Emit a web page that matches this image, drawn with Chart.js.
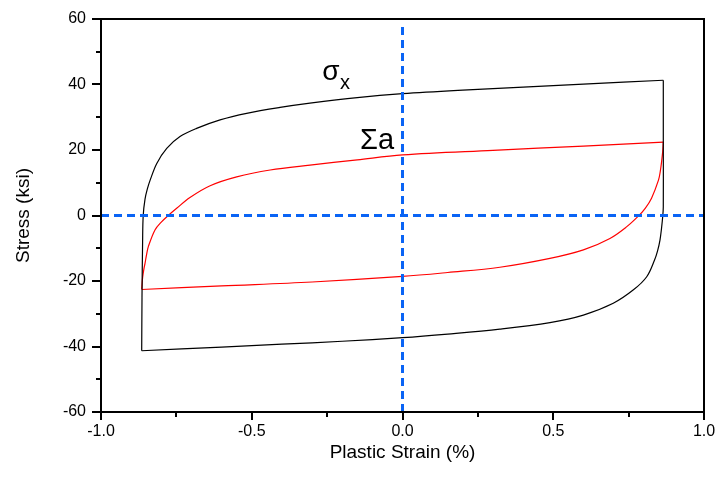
<!DOCTYPE html>
<html>
<head>
<meta charset="utf-8">
<script src="https://cdn.jsdelivr.net/npm/chart.js@4/dist/chart.umd.min.js"></script>
<style>
    html, body { margin: 0; padding: 0; background: #fff; }
    #wrap { width: 718px; height: 477px; }
</style>
</head>
<body>
<div id="wrap"><canvas id="loopChart"></canvas></div>
<script>
// values (strain %, stress ksi)
const sigmaUpX = [-0.865, -0.864, -0.862, -0.860, -0.854, -0.846, -0.837, -0.815, -0.782, -0.738, -0.683, -0.605, -0.517, -0.406, -0.307, -0.15, 0, 0.2, 0.4, 0.6, 0.865];
const sigmaUpY = [-41.3, -25, -8, 0, 5, 8.2, 10.8, 15.9, 20.5, 24.1, 26.6, 29.2, 31.2, 33.0, 34.3, 36.0, 37.2, 38.3, 39.2, 40.1, 41.3];
const sigmaDownX = [0.865, 0.865, 0.865, 0.863, 0.859, 0.854, 0.846, 0.836, 0.810, 0.766, 0.699, 0.600, 0.489, 0.323, 0.15, 0, -0.2, -0.4, -0.6, -0.865];
const sigmaDownY = [41.3, 20, 2.7, -0.4, -4, -7.5, -10.8, -13.6, -18.7, -22.7, -26.8, -30.4, -32.7, -34.7, -36.2, -37.3, -38.4, -39.3, -40.2, -41.3];

const alphaUpX = [-0.865, -0.862, -0.858, -0.854, -0.849, -0.843, -0.821, -0.800, -0.777, -0.749, -0.705, -0.638, -0.550, -0.439, -0.307, -0.15, 0, 0.3, 0.6, 0.865];
const alphaUpY = [-22.5, -19, -16.5, -14.6, -12, -9.5, -4.4, -2.0, 0, 2.2, 5.5, 9.1, 11.8, 13.9, 15.4, 17.0, 18.5, 19.9, 21.2, 22.4];
const alphaDownX = [0.865, 0.863, 0.860, 0.855, 0.849, 0.826, 0.805, 0.782, 0.744, 0.688, 0.600, 0.489, 0.323, 0.15, 0, -0.3, -0.6, -0.865];
const alphaDownY = [22.4, 19.5, 16.9, 13.5, 10.8, 5.3, 2.2, -0.2, -3.4, -7.0, -10.5, -13.1, -15.8, -17.4, -18.6, -20.3, -21.5, -22.6];

const zeroLineX = [-1, 1];
const zeroLineY = [0, 0];
const midLineX = [0, 0];
const midLineY = [-60, 57.8];

const xTicks = [-1.0, -0.5, 0.0, 0.5, 1.0];
const yTicks = [-60, -40, -20, 0, 20, 40, 60];

const noteText = ['\u03C3', 'x', '\u03A3a'];
const noteX = [-0.266, -0.207, -0.141];
const noteY = [41.4, 38.6, 20.3];

function toPoints(xs, ys) {
    let pts = [];
    for (let i = 0; i < xs.length; i++) {
        pts.push({ x: xs[i], y: ys[i] });
    }
    return pts;
}

// frame, outward ticks and the text notes
const framePlugin = {
    id: 'frame',
    afterDraw(chart) {
        const ctx = chart.ctx;
        const a = chart.chartArea;
        const xs = chart.scales.x;
        const ys = chart.scales.y;
        ctx.save();
        ctx.strokeStyle = '#000';
        ctx.lineWidth = 2;
        ctx.strokeRect(a.left, a.top, a.right - a.left, a.bottom - a.top);

        ctx.beginPath();
        for (let v = -1; v <= 1.0001; v += 0.25) {
            let px = Math.round(xs.getPixelForValue(v));
            let major = Math.abs(v * 2 - Math.round(v * 2)) < 1e-6;
            ctx.moveTo(px, a.bottom);
            ctx.lineTo(px, a.bottom + (major ? 8 : 5));
        }
        for (let v = -60; v <= 60; v += 10) {
            let py = Math.round(ys.getPixelForValue(v));
            let major = v % 20 === 0;
            ctx.moveTo(a.left, py);
            ctx.lineTo(a.left - (major ? 9 : 5), py);
        }
        ctx.stroke();

        ctx.fillStyle = '#000';
        ctx.textBaseline = 'alphabetic';
        ctx.textAlign = 'left';
        const fonts = ['28px "Liberation Sans", Arial', '20px "Liberation Sans", Arial', '29px "Liberation Sans", Arial'];
        for (let i = 0; i < noteText.length; i++) {
            ctx.font = fonts[i];
            ctx.fillText(noteText[i], xs.getPixelForValue(noteX[i]), ys.getPixelForValue(noteY[i]));
        }
        ctx.restore();
    }
};

function createChart(ctx) {
    return new Chart(ctx, {
        type: 'scatter',
        data: {
            datasets: [{
                data: toPoints(zeroLineX, zeroLineY),
                borderColor: 'rgb(10, 100, 245)',
                borderWidth: 3,
                borderDash: [8, 5]
            }, {
                data: toPoints(midLineX, midLineY),
                borderColor: 'rgb(10, 100, 245)',
                borderWidth: 3,
                borderDash: [8, 5]
            }, {
                data: toPoints(sigmaUpX, sigmaUpY),
                borderColor: '#000',
                borderWidth: 1.2,
                tension: 0.35
            }, {
                data: toPoints(sigmaDownX, sigmaDownY),
                borderColor: '#000',
                borderWidth: 1.2,
                tension: 0.35
            }, {
                data: toPoints(alphaUpX, alphaUpY),
                borderColor: '#ff0000',
                borderWidth: 1.2,
                tension: 0.35
            }, {
                data: toPoints(alphaDownX, alphaDownY),
                borderColor: '#ff0000',
                borderWidth: 1.2,
                tension: 0.35
            }].map(d => Object.assign(d, { showLine: true, pointRadius: 0, pointHoverRadius: 0, fill: false }))
        },
        options: {
            responsive: true,
            maintainAspectRatio: false,
            animation: false,
            layout: {
                padding: { top: 19, right: 14, left: 0, bottom: 0 }
            },
            plugins: {
                legend: { display: false },
                tooltip: { enabled: false }
            },
            scales: {
                x: {
                    type: 'linear',
                    min: -1,
                    max: 1,
                    afterFit: function (scale) {
                        scale.height = 65;
                        scale.paddingLeft = 0;
                        scale.paddingRight = 0;
                    },
                    afterBuildTicks: function (scale) {
                        scale.ticks = xTicks.map(v => ({ value: v }));
                    },
                    grid: { display: false, drawTicks: false },
                    border: { display: false },
                    ticks: {
                        padding: 10,
                        color: '#000',
                        font: { family: '"Liberation Sans", Arial', size: 16 },
                        maxRotation: 0,
                        callback: function (v) { return v.toFixed(1); }
                    },
                    title: {
                        display: true,
                        text: 'Plastic Strain (%)',
                        color: '#000',
                        font: { family: '"Liberation Sans", Arial', size: 19 },
                        padding: { top: 0, bottom: 13 }
                    }
                },
                y: {
                    type: 'linear',
                    min: -60,
                    max: 60,
                    afterFit: function (scale) {
                        scale.width = 101;
                        scale.paddingTop = 0;
                        scale.paddingBottom = 0;
                    },
                    afterBuildTicks: function (scale) {
                        scale.ticks = yTicks.map(v => ({ value: v }));
                    },
                    grid: { display: false, drawTicks: false },
                    border: { display: false },
                    ticks: {
                        padding: 15,
                        color: '#000',
                        font: { family: '"Liberation Sans", Arial', size: 16 }
                    },
                    title: {
                        display: true,
                        text: 'Stress (ksi)',
                        color: '#000',
                        font: { family: '"Liberation Sans", Arial', size: 19 },
                        padding: { top: 12, bottom: 0 }
                    }
                }
            }
        },
        plugins: [framePlugin]
    });
}

createChart(document.getElementById('loopChart').getContext('2d'));
</script>
</body>
</html>
